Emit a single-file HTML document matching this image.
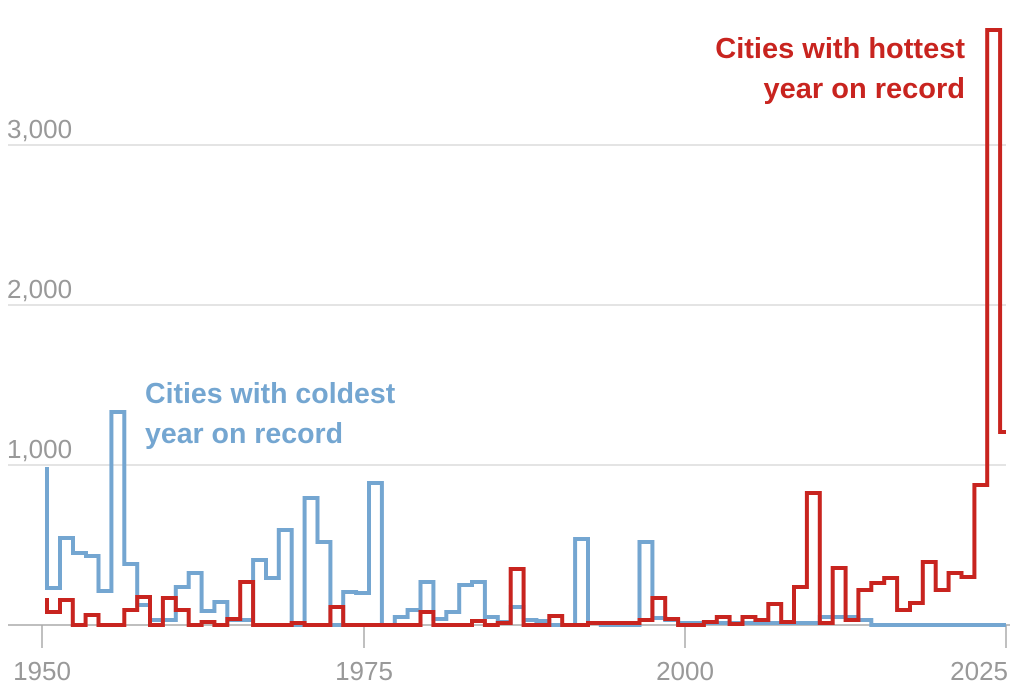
<!DOCTYPE html>
<html><head><meta charset="utf-8"><style>
html,body{margin:0;padding:0;background:#fff;}
svg{display:block;font-family:"Liberation Sans",sans-serif;}
</style></head><body>
<svg width="1024" height="692" viewBox="0 0 1024 692" xmlns="http://www.w3.org/2000/svg">
<g stroke="#dcdcdc" stroke-width="1.5">
<line x1="8" y1="145" x2="1006" y2="145"/>
<line x1="8" y1="305" x2="1006" y2="305"/>
<line x1="8" y1="465" x2="1006" y2="465"/>
</g>
<g fill="#999" font-size="26">
<text x="7" y="138">3,000</text>
<text x="7" y="298">2,000</text>
<text x="7" y="458">1,000</text>
<text x="42" y="680" text-anchor="middle">1950</text>
<text x="364" y="680" text-anchor="middle">1975</text>
<text x="685" y="680" text-anchor="middle">2000</text>
<text x="1008" y="680" text-anchor="end">2025</text>
</g>
<g stroke="#aaa" stroke-width="1.5">
<line x1="8" y1="625" x2="1010" y2="625"/>
<line x1="42" y1="625" x2="42" y2="648"/>
<line x1="364" y1="625" x2="364" y2="648"/>
<line x1="685" y1="625" x2="685" y2="648"/>
<line x1="1006" y1="625" x2="1006" y2="648"/>
</g>
<path fill="none" stroke="#74a6d1" stroke-width="4" d="M45,469 H47 V588 H60 V538 H73 V553 H86 V556 H98.5 V591 H111.4 V412 H124.3 V564 H137.2 V605 H150 V620 H175.8 V587 H188.7 V573 H201.6 V611 H214.4 V602 H227.3 V620 H253.1 V560 H266 V578 H278.8 V530 H291.7 V625 H304.6 V498 H317.5 V542 H330.4 V625 H343.2 V592 H356.1 V593 H369 V483 H381.9 V625 H394.8 V617 H407.6 V610 H420.5 V582 H433.4 V619 H446.3 V612 H459.2 V585 H472 V582 H484.9 V617 H497.8 V622 H510.7 V607 H523.6 V620 H536.4 V621 H549.3 V625 H575.1 V539 H588 V623 H600.8 V625 H639.5 V542 H652.4 V618 H665.2 V620 H678.1 V623 H819.8 V617 H858.4 V620 H871.3 V625 H1006"/>
<path fill="none" stroke="#c8241f" stroke-width="4" d="M45,600 H47 V612 H60 V600 H72.8 V625 H85.6 V615 H98.5 V625 H124.3 V610 H137.2 V597 H150 V625 H162.9 V598 H175.8 V610 H188.7 V625 H201.6 V622 H214.4 V625 H227.3 V619 H240.2 V582 H253.1 V625 H291.7 V623 H304.6 V625 H330.4 V607 H343.2 V625 H420.5 V612 H433.4 V625 H472 V621 H484.9 V625 H497.8 V623 H510.7 V569 H523.6 V625 H549.3 V616 H562.2 V625 H588 V623 H639.5 V620 H652.4 V598 H665.2 V619 H678.1 V625 H703.9 V622 H716.8 V617 H729.6 V624 H742.5 V617 H755.4 V620 H768.3 V604 H781.2 V622 H794 V587 H806.9 V493 H819.8 V623 H832.7 V568 H845.6 V620 H858.4 V590 H871.3 V583 H884.2 V578 H897.1 V610 H910 V603 H922.8 V562 H935.7 V590 H948.6 V573 H961.5 V577 H974.4 V485 H987.2 V30 H1000.1 V432 H1006"/>
<g font-weight="bold" font-size="29">
<text x="965" y="58" fill="#c8241f" text-anchor="end">Cities with hottest</text>
<text x="965" y="98" fill="#c8241f" text-anchor="end">year on record</text>
<text x="145" y="403" fill="#74a6d1" font-size="28.5">Cities with coldest</text>
<text x="145" y="443" fill="#74a6d1" font-size="28.5">year on record</text>
</g>
</svg>
</body></html>
